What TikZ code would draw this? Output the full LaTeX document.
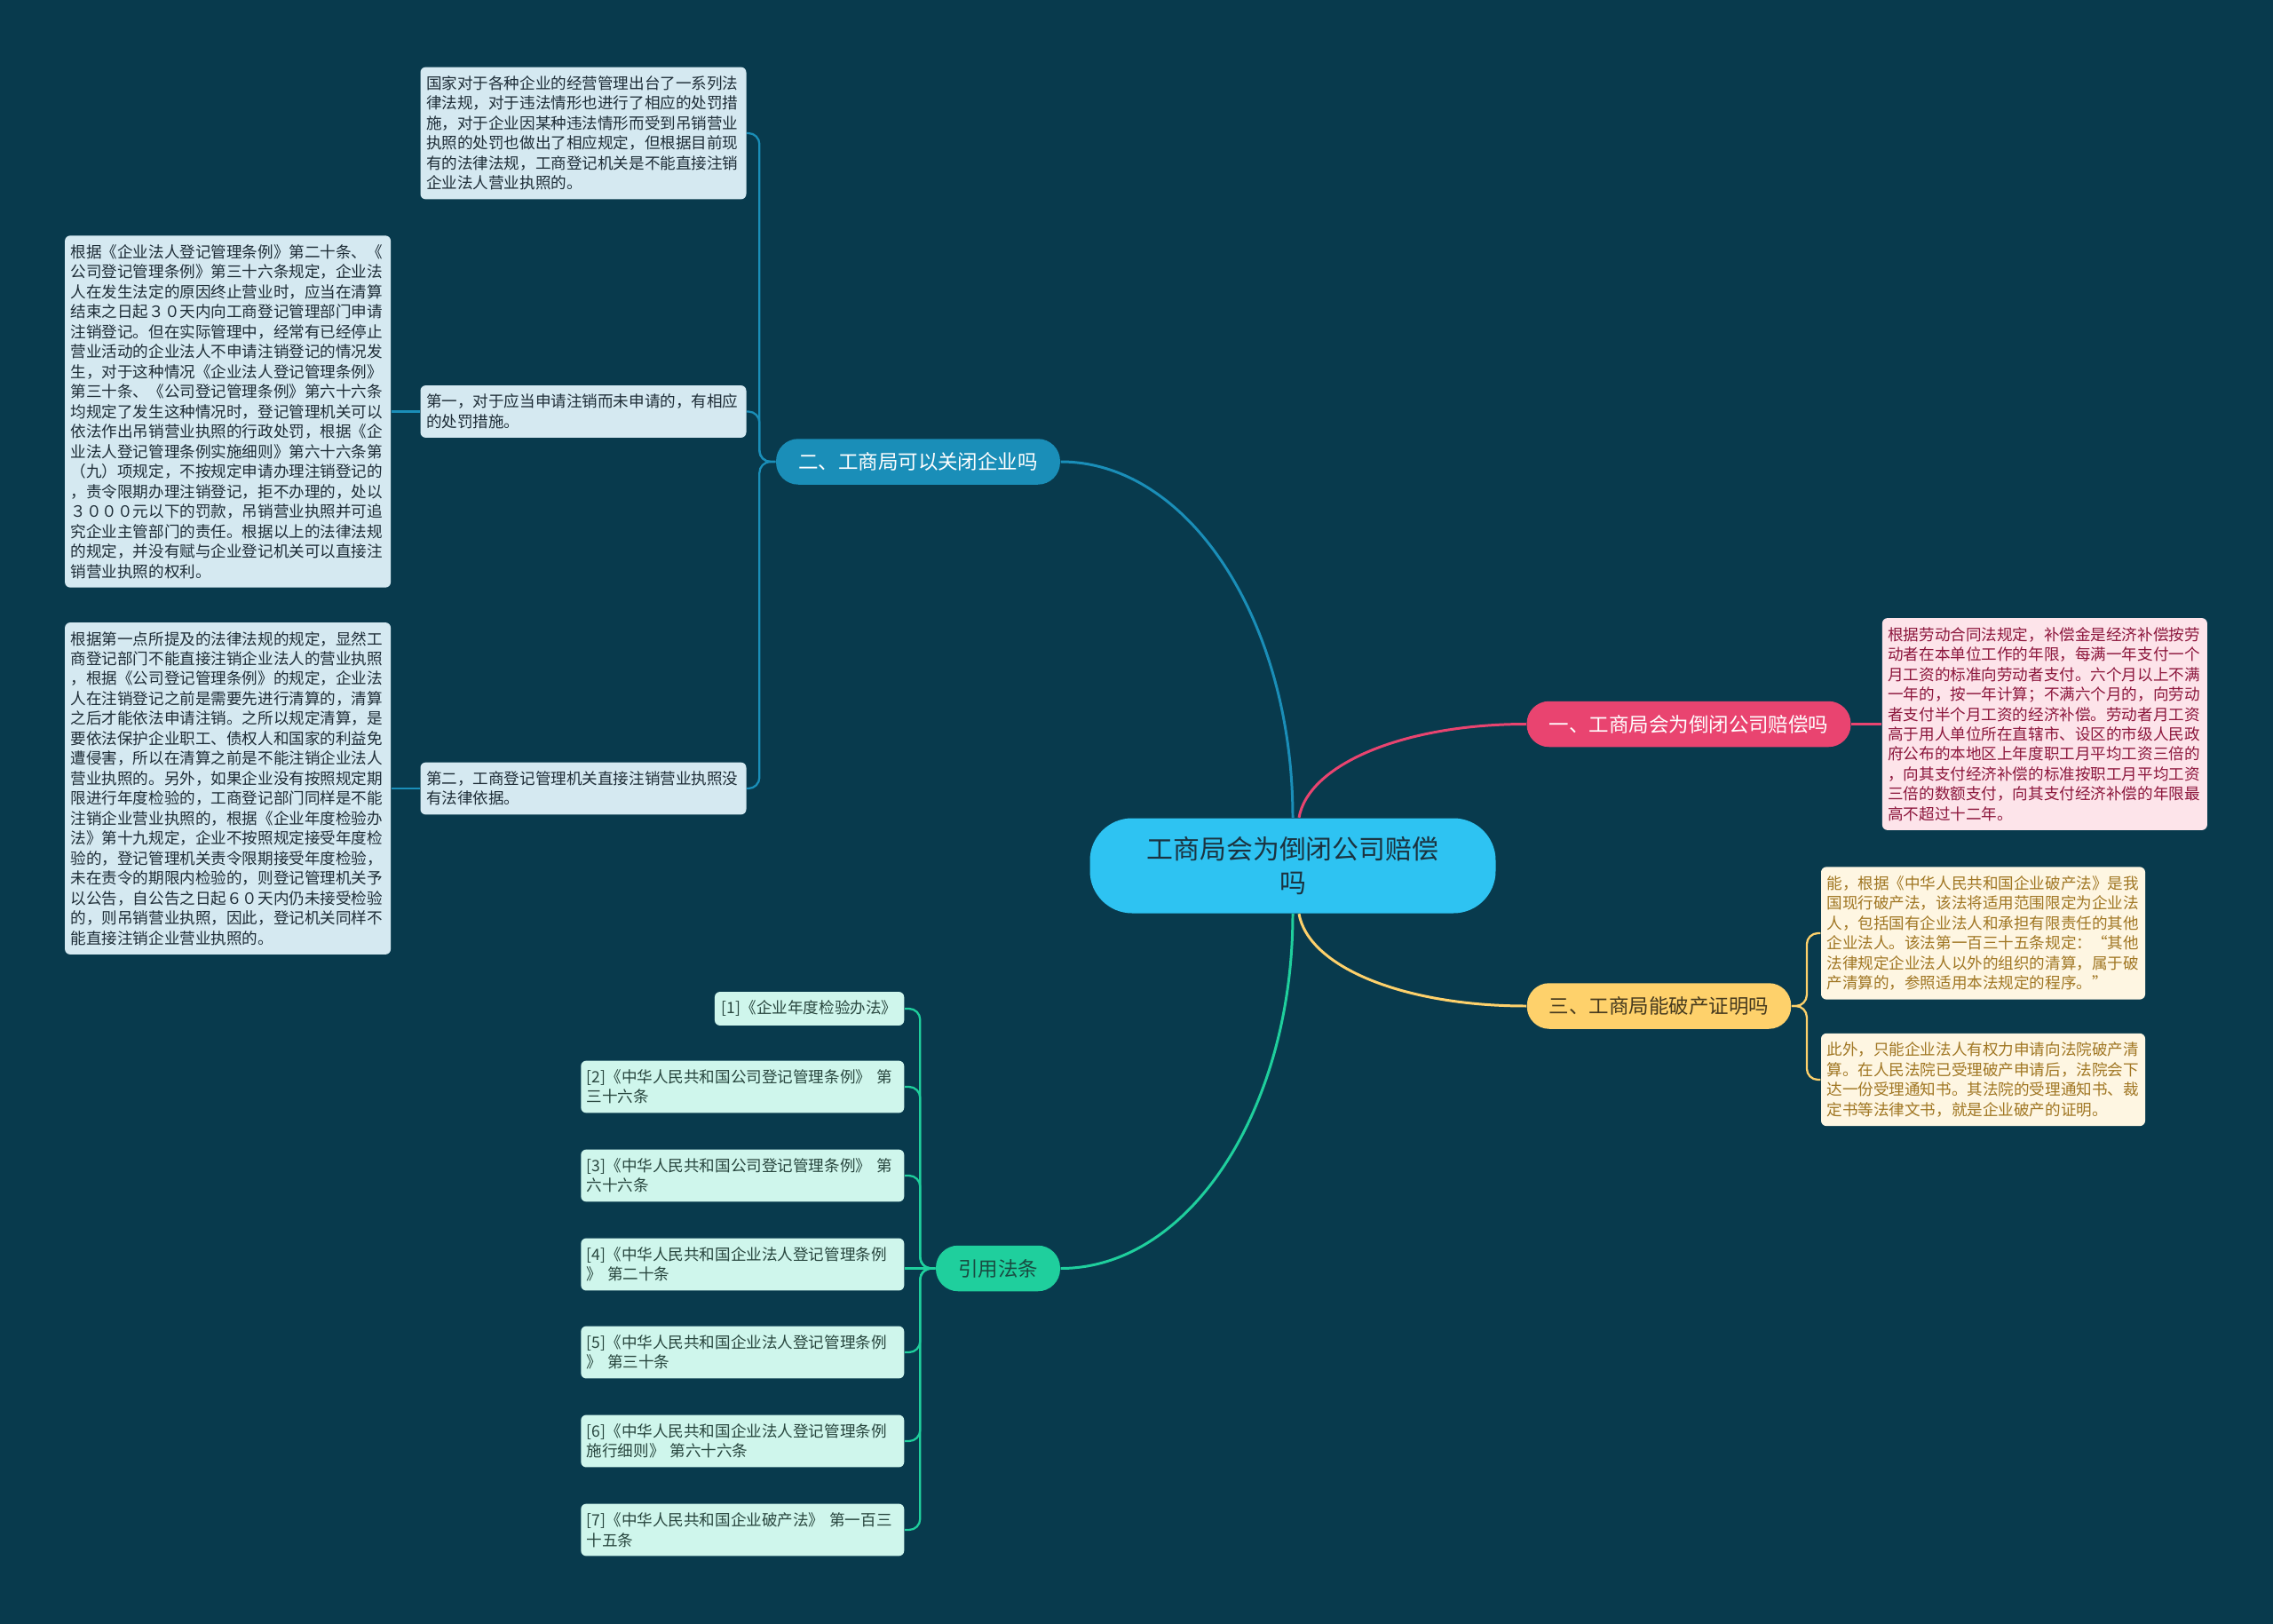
\documentclass[tikz,border=0pt]{standalone}
\usepackage{fontspec}
\setmainfont{Noto Sans CJK SC}
\usepackage{tikz}
\usetikzlibrary{positioning}
\definecolor{bgc}{RGB}{8,58,77}
\definecolor{cfill}{RGB}{46,195,242}
\definecolor{ctext}{RGB}{27,51,64}
\definecolor{bluec}{RGB}{26,142,184}
\definecolor{pinkc}{RGB}{233,68,112}
\definecolor{yelc}{RGB}{254,209,107}
\definecolor{grnc}{RGB}{31,207,157}
\definecolor{lbfill}{RGB}{213,233,241}
\definecolor{lbtext}{RGB}{30,45,55}
\definecolor{lpfill}{RGB}{253,228,234}
\definecolor{lptext}{RGB}{140,22,60}
\definecolor{lyfill}{RGB}{254,246,226}
\definecolor{lytext}{RGB}{160,118,35}
\definecolor{lgfill}{RGB}{207,246,236}
\definecolor{lgtext}{RGB}{40,70,62}

\begin{document}
\begin{tikzpicture}[thick, node distance=0.6cm,
	every node/.style={font=\fontsize{10}{12.8}\selectfont},
	main/.style={rounded corners=0.5cm, inner xsep=0.5cm, minimum height=1.03cm, font=\fontsize{12.8}{15}\selectfont},
	leaf/.style={rounded corners=0.12cm, inner xsep=0.13cm, inner ysep=0.2cm, align=left},
	leafb/.style={leaf, fill=lbfill, text=lbtext, text width=7.08cm},
	leafp/.style={leaf, fill=lpfill, text=lptext, text width=7.06cm},
	leafy/.style={leaf, fill=lyfill, text=lytext, text width=7.04cm},
	leafg/.style={leaf, fill=lgfill, text=lgtext, anchor=east},
	curve/.style={line width=1.7pt},
	bus/.style={line width=1.3pt, rounded corners=0.25cm}]

	\fill[bgc] (0,0) rectangle (51.2,-36.58);
	\useasboundingbox (0,0) rectangle (51.2,-36.58);

	\node[fill=cfill, text=ctext, rounded corners=0.95cm, minimum width=9.14cm, minimum height=2.14cm, align=center, font=\fontsize{17}{22}\selectfont] (c) at (29.12,-19.5) {工商局会为倒闭公司赔偿\\吗};

	\node[main, fill=bluec, text=white] (b2) at (20.68,-10.4) {二、工商局可以关闭企业吗};
	\node[main, fill=pinkc, text=white] (b1) at (38.04,-16.31) {一、工商局会为倒闭公司赔偿吗};
	\node[main, fill=yelc, text={rgb,255:red,70;green,58;blue,30}] (b3) at (37.37,-22.66) {三、工商局能破产证明吗};
	\node[main, fill=grnc, text={rgb,255:red,25;green,75;blue,65}] (b4) at (22.48,-28.57) {引用法条};

	\node[leafb] (l1) at (13.14,-3.0) {国家对于各种企业的经营管理出台了一系列法\\律法规，对于违法情形也进行了相应的处罚措\\施，对于企业因某种违法情形而受到吊销营业\\执照的处罚也做出了相应规定，但根据目前现\\有的法律法规，工商登记机关是不能直接注销\\企业法人营业执照的。};
	\node[leafb] (l2) at (13.14,-9.27) {第一，对于应当申请注销而未申请的，有相应\\的处罚措施。};
	\node[leafb, left=0.64cm of l2] (l3) {根据《企业法人登记管理条例》第二十条、《\\公司登记管理条例》第三十六条规定，企业法\\人在发生法定的原因终止营业时，应当在清算\\结束之日起３０天内向工商登记管理部门申请\\注销登记。但在实际管理中，经常有已经停止\\营业活动的企业法人不申请注销登记的情况发\\生，对于这种情况《企业法人登记管理条例》\\第三十条、《公司登记管理条例》第六十六条\\均规定了发生这种情况时，登记管理机关可以\\依法作出吊销营业执照的行政处罚，根据《企\\业法人登记管理条例实施细则》第六十六条第\\（九）项规定，不按规定申请办理注销登记的\\，责令限期办理注销登记，拒不办理的，处以\\３０００元以下的罚款，吊销营业执照并可追\\究企业主管部门的责任。根据以上的法律法规\\的规定，并没有赋与企业登记机关可以直接注\\销营业执照的权利。};
	\node[leafb] (l4) at (13.14,-17.76) {第二，工商登记管理机关直接注销营业执照没\\有法律依据。};
	\node[leafb, left=0.64cm of l4] (l5) {根据第一点所提及的法律法规的规定，显然工\\商登记部门不能直接注销企业法人的营业执照\\，根据《公司登记管理条例》的规定，企业法\\人在注销登记之前是需要先进行清算的，清算\\之后才能依法申请注销。之所以规定清算，是\\要依法保护企业职工、债权人和国家的利益免\\遭侵害，所以在清算之前是不能注销企业法人\\营业执照的。另外，如果企业没有按照规定期\\限进行年度检验的，工商登记部门同样是不能\\注销企业营业执照的，根据《企业年度检验办\\法》第十九规定，企业不按照规定接受年度检\\验的，登记管理机关责令限期接受年度检验，\\未在责令的期限内检验的，则登记管理机关予\\以公告，自公告之日起６０天内仍未接受检验\\的，则吊销营业执照，因此，登记机关同样不\\能直接注销企业营业执照的。};

	\node[leafp, right=0.68cm of b1] (p1) {根据劳动合同法规定，补偿金是经济补偿按劳\\动者在本单位工作的年限，每满一年支付一个\\月工资的标准向劳动者支付。六个月以上不满\\一年的，按一年计算；不满六个月的，向劳动\\者支付半个月工资的经济补偿。劳动者月工资\\高于用人单位所在直辖市、设区的市级人民政\\府公布的本地区上年度职工月平均工资三倍的\\，向其支付经济补偿的标准按职工月平均工资\\三倍的数额支付，向其支付经济补偿的年限最\\高不超过十二年。};

	\node[leafy] (y1) at (44.67,-21.02) {能，根据《中华人民共和国企业破产法》是我\\国现行破产法，该法将适用范围限定为企业法\\人，包括国有企业法人和承担有限责任的其他\\企业法人。该法第一百三十五条规定：“其他\\法律规定企业法人以外的组织的清算，属于破\\产清算的，参照适用本法规定的程序。”};
	\node[leafy] (y2) at (44.67,-24.32) {此外，只能企业法人有权力申请向法院破产清\\算。在人民法院已受理破产申请后，法院会下\\达一份受理通知书。其法院的受理通知书、裁\\定书等法律文书，就是企业破产的证明。};

	\node[leafg, inner xsep=0.16cm] (g1) at (20.38,-22.72) {[1]《企业年度检验办法》};
	\node[leafg, text width=7.02cm] (g2) at (20.38,-24.48) {[2]《中华人民共和国公司登记管理条例》 第\\三十六条};
	\node[leafg, text width=7.02cm] (g3) at (20.38,-26.48) {[3]《中华人民共和国公司登记管理条例》 第\\六十六条};
	\node[leafg, text width=7.02cm] (g4) at (20.38,-28.48) {[4]《中华人民共和国企业法人登记管理条例\\》 第二十条};
	\node[leafg, text width=7.02cm] (g5) at (20.38,-30.46) {[5]《中华人民共和国企业法人登记管理条例\\》 第三十条};
	\node[leafg, text width=7.02cm] (g6) at (20.38,-32.46) {[6]《中华人民共和国企业法人登记管理条例\\施行细则》 第六十六条};
	\node[leafg, text width=7.02cm] (g7) at (20.38,-34.46) {[7]《中华人民共和国企业破产法》 第一百三\\十五条};

	\draw[curve, bluec] (c.north) to[out=90, in=0, out distance=4.4cm, in distance=2.9cm] (b2.east);
	\draw[curve, pinkc] ([xshift=0.14cm]c.north) to[out=80, in=180, out distance=1.2cm, in distance=2.8cm] (b1.west);
	\draw[curve, yelc] ([xshift=0.14cm]c.south) to[out=-80, in=180, out distance=1.2cm, in distance=2.8cm] (b3.west);
	\draw[curve, grnc] (c.south) to[out=-90, in=0, out distance=4.4cm, in distance=2.9cm] (b4.east);

	\foreach \n in {l1,l2,l4}
		\draw[bus, bluec] (b2.west) -- ++(-0.36,0) |- (\n.east);
	\draw[bus, bluec] (l2.west) -- (l3.east);
	\draw[bus, bluec] (l4.west) -- (l5.east);
	\draw[bus, pinkc] (b1.east) -- (p1.west);
	\foreach \n in {y1,y2}
		\draw[bus, yelc] (b3.east) -- ++(0.34,0) |- (\n.west);
	\foreach \n in {g1,g2,g3,g5,g6,g7}
		\draw[bus, grnc] (b4.west) -- ++(-0.34,0) |- (\n.east);
	\draw[bus, grnc] (b4.west) -- (g4.east |- b4.west);
\end{tikzpicture}
\end{document}
